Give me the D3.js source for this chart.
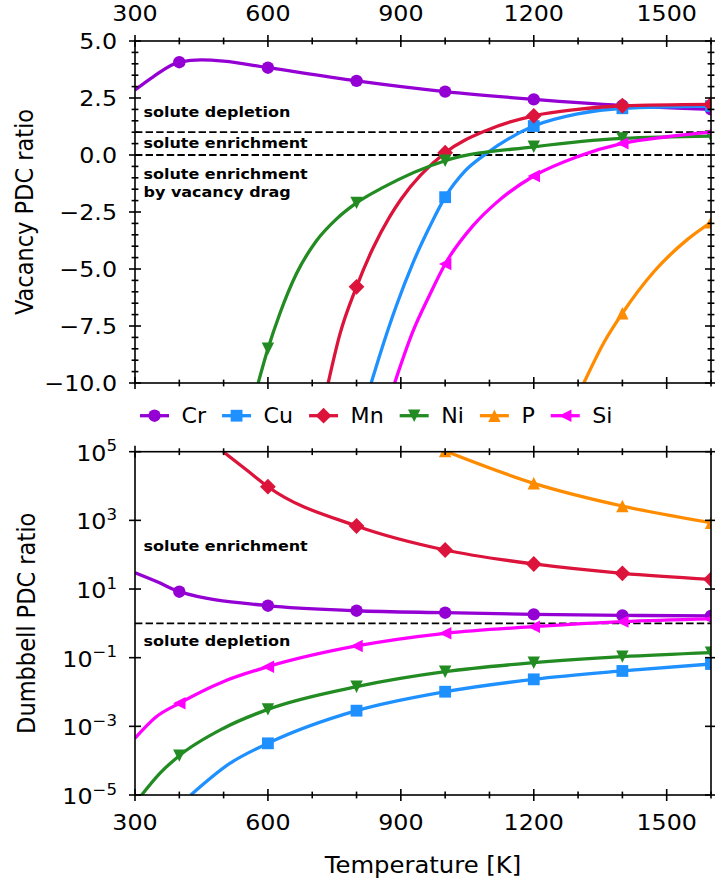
<!DOCTYPE html>
<html>
<head>
<meta charset="utf-8">
<script src="https://cdn.jsdelivr.net/npm/d3@7"></script>
<style>
  body { margin: 0; background: #fff; }
  svg { display: block; }
  text { font-family: "DejaVu Sans", sans-serif; fill: #000; }
</style>
</head>
<body>
<svg id="chart" width="715" height="884"></svg>
<script>
// ---- data -------------------------------------------------------------
const solutes = ["Cr", "Cu", "Mn", "Ni", "P", "Si"];
const soluteColors = ["#9400d3", "#1e90ff", "#dc143c", "#228b22", "#ff8c00", "#ff00ff"];
const soluteShapes = ["circle", "square", "diamond", "triDown", "triUp", "triLeft"];

const temperatureTicks = [300, 600, 900, 1200, 1500];
const temperatureMinorTicks = [400, 500, 700, 800, 1000, 1100, 1300, 1400, 1600];
const markerTemperatures = [400, 600, 800, 1000, 1200, 1400, 1600];

const vacancyTicks = [5, 2.5, 0, -2.5, -5, -7.5, -10];
const dumbbellTicks = [1e5, 1e3, 1e1, 1e-1, 1e-3, 1e-5];
const dumbbellExponents = ["5", "3", "1", "\u22121", "\u22123", "\u22125"];

// vacancy PDC ratio vs temperature [K]
const vacancyCr = [[300, 2.85], [341, 3.43], [400, 4.07], [450, 4.17], [500, 4.12], [600, 3.83], [800, 3.25], [1000, 2.78], [1200, 2.44], [1400, 2.17], [1600, 2.0]];
const vacancyCu = [[833, -10], [852, -8.8], [890, -6.6], [927, -4.75], [965, -3.15], [1000, -1.85], [1045, -0.7], [1092, 0.05], [1200, 1.27], [1299, 1.8], [1400, 2.05], [1600, 2.15]];
const vacancyMn = [[736, -10], [762, -7.89], [800, -5.78], [837, -4.09], [875, -2.7], [900, -1.95], [1000, 0.1], [1096, 1.1], [1200, 1.72], [1299, 2.0], [1400, 2.16], [1600, 2.22]];
const vacancyNi = [[578, -10], [600, -8.5], [627, -6.95], [664, -5.22], [710, -3.75], [755, -2.8], [800, -2.1], [860, -1.42], [1000, -0.25], [1200, 0.36], [1400, 0.73], [1600, 0.83]];
const vacancyP = [[1313, -10], [1359, -8.2], [1400, -6.94], [1472, -5.1], [1547, -3.7], [1600, -2.95]];
const vacancySi = [[886, -10], [927, -7.75], [965, -6.14], [1000, -4.78], [1063, -3.1], [1115, -2.1], [1200, -0.92], [1299, -0.07], [1400, 0.51], [1502, 0.8], [1600, 1.0]];

// dumbbell PDC ratio vs temperature [K]
const dumbbellCr = [[300, 29.9], [350, 16.3], [400, 8.36], [600, 3.27], [800, 2.33], [1000, 2.04], [1200, 1.83], [1400, 1.71], [1600, 1.64]];
const dumbbellCu = [[426, 1e-5], [514, 8.3e-5], [600, 3.2e-4], [800, 2.86e-3], [1000, 0.0102], [1200, 0.0234], [1400, 0.041], [1600, 0.0655]];
const dumbbellMn = [[499, 1e5], [552, 2.93e4], [600, 9550], [800, 686], [1000, 137], [1200, 53.6], [1400, 28.7], [1600, 19.2]];
const dumbbellNi = [[315, 1e-5], [356, 4.27e-5], [400, 1.4e-4], [499, 8.7e-4], [600, 3.13e-3], [800, 0.0143], [1000, 0.039], [1200, 0.0715], [1400, 0.107], [1600, 0.14]];
const dumbbellP = [[1000, 1.05e5], [1200, 1.2e4], [1400, 2620], [1600, 855]];
const dumbbellSi = [[300, 4.5e-4], [348, 1.9e-3], [400, 4.7e-3], [499, 0.02], [600, 0.0546], [800, 0.219], [1000, 0.513], [1200, 0.80], [1400, 1.12], [1600, 1.35]];

const vacancySeries = [vacancyCr, vacancyCu, vacancyMn, vacancyNi, vacancyP, vacancySi];
const dumbbellSeries = [dumbbellCr, dumbbellCu, dumbbellMn, dumbbellNi, dumbbellP, dumbbellSi];

// ---- layout -----------------------------------------------------------
const SX = 1.08;               // horizontal glyph stretch
const left = 135, right = 711;
const topPanel = { top: 41, bottom: 383 };
const botPanel = { top: 451.7, bottom: 795 };
const tickFont = 22, labelFont = 22.5, legendFont = 20.5, noteFont = 14.8;
const lineWidth = 3.3, spineWidth = 1.6;

const svg = d3.select("#chart");

const x = d3.scaleLinear().domain([300, 1600]).range([left, right]);
const yVac = d3.scaleLinear().domain([-10, 5]).range([topPanel.bottom, topPanel.top]);
const yDum = d3.scaleLog().domain([1e-5, 1e5]).range([botPanel.bottom, botPanel.top]);

function text(g, px, py, str, opts = {}) {
  return g.append("text")
    .attr("transform", `translate(${px},${py}) scale(${SX},1)` + (opts.rotate ? ` rotate(${opts.rotate})` : ""))
    .attr("font-size", opts.size || tickFont)
    .attr("text-anchor", opts.anchor || "start")
    .attr("font-weight", opts.weight || "normal")
    .text(str);
}

function markerPath(shape) {
  const h = 6.2;
  switch (shape) {
    case "circle": return `M${h},0A${h},${h} 0 1,1 ${-h},0A${h},${h} 0 1,1 ${h},0Z`;
    case "square": return `M${-5.9},${-5.9}H5.9V5.9H${-5.9}Z`;
    case "diamond": { const d = 7.9; return `M0,${-d}L${d},0L0,${d}L${-d},0Z`; }
    case "triDown": return `M0,${h}L${-h},${-h}L${h},${-h}Z`;
    case "triUp": return `M0,${-h}L${h},${h}L${-h},${h}Z`;
    case "triLeft": return `M${-h},0L${h},${-h}L${h},${h}Z`;
  }
}

const defs = svg.append("defs");
function clip(id, p) {
  defs.append("clipPath").attr("id", id)
    .append("rect").attr("x", left).attr("y", p.top)
    .attr("width", right - left).attr("height", p.bottom - p.top);
}
clip("clipTop", topPanel);
clip("clipBot", botPanel);

function drawSeries(g, seriesList, yScale) {
  const line = d3.line()
    .x(d => x(d[0]))
    .y(d => yScale(d[1]))
    .curve(d3.curveMonotoneX);
  seriesList.forEach((data, i) => {
    const s = g.append("g");
    s.append("path").attr("d", line(data))
      .attr("fill", "none").attr("stroke", soluteColors[i])
      .attr("stroke-width", lineWidth).attr("stroke-linejoin", "round");
    s.selectAll("path.m").data(data.filter(d => markerTemperatures.includes(d[0])))
      .enter().append("path").attr("class", "m")
      .attr("d", markerPath(soluteShapes[i]))
      .attr("transform", d => `translate(${x(d[0])},${yScale(d[1])})`)
      .attr("fill", soluteColors[i]);
  });
}

function xTicks(g, yPos) {
  temperatureTicks.forEach(t => g.append("line")
    .attr("x1", x(t)).attr("x2", x(t)).attr("y1", yPos - 6).attr("y2", yPos + 6));
  temperatureMinorTicks.forEach(t => g.append("line")
    .attr("x1", x(t)).attr("x2", x(t)).attr("y1", yPos - 3.4).attr("y2", yPos + 3.4));
}

function yTickLines(g, yScale, values, half) {
  values.forEach(v => {
    [left, right].forEach(xp => g.append("line")
      .attr("x1", xp - half).attr("x2", xp + half)
      .attr("y1", yScale(v)).attr("y2", yScale(v)));
  });
}

// ---- top panel: vacancy PDC ratio --------------------------------------
const gTop = svg.append("g");
const topPlot = gTop.append("g").attr("clip-path", "url(#clipTop)");

// region boundaries at ratio 1 and 0
[1, 0].forEach(v => topPlot.append("line")
  .attr("x1", left).attr("x2", right).attr("y1", yVac(v)).attr("y2", yVac(v))
  .attr("stroke", "#000").attr("stroke-width", 1.8).attr("stroke-dasharray", "7.4,3.2"));

drawSeries(topPlot, vacancySeries, yVac);

text(gTop, 143.5, 117, "solute depletion", { size: noteFont, weight: "bold" });
text(gTop, 143.5, 147.7, "solute enrichment", { size: noteFont, weight: "bold" });
text(gTop, 143.5, 179, "solute enrichment", { size: noteFont, weight: "bold" });
text(gTop, 143.5, 197, "by vacancy drag", { size: noteFont, weight: "bold" });

const topAxes = gTop.append("g").attr("stroke", "#000").attr("stroke-width", spineWidth);
topAxes.append("rect").attr("x", left).attr("y", topPanel.top)
  .attr("width", right - left).attr("height", topPanel.bottom - topPanel.top).attr("fill", "none");
xTicks(topAxes, topPanel.top);
xTicks(topAxes, topPanel.bottom);
yTickLines(topAxes, yVac, vacancyTicks, 6);
yTickLines(topAxes, yVac, d3.range(-10, 5.01, 0.5).filter(v => !vacancyTicks.includes(v)), 3.4);

temperatureTicks.forEach(t => text(gTop, x(t), 21, String(t), { anchor: "middle" }));
vacancyTicks.forEach(v => text(gTop, 117, yVac(v) + 8,
  d3.format(".1f")(v).replace("-", "\u2212"), { anchor: "end" }));
text(gTop, 33, (topPanel.top + topPanel.bottom) / 2, "Vacancy PDC ratio",
  { size: labelFont, anchor: "middle", rotate: -90 });

// ---- legend -----------------------------------------------------------
const legend = svg.append("g");
const legendY = 415.7;
let lx = 140;
solutes.forEach((name, i) => {
  legend.append("line").attr("x1", lx).attr("x2", lx + 29)
    .attr("y1", legendY).attr("y2", legendY)
    .attr("stroke", soluteColors[i]).attr("stroke-width", lineWidth);
  legend.append("path").attr("d", markerPath(soluteShapes[i]))
    .attr("transform", `translate(${lx + 14.5},${legendY})`).attr("fill", soluteColors[i]);
  const t = text(legend, lx + 41.5, legendY + 7.6, name, { size: legendFont });
  const w = t.node().getComputedTextLength() * SX;
  lx += 41.5 + w + 16;
});

// ---- bottom panel: dumbbell PDC ratio ----------------------------------
const gBot = svg.append("g");
const botPlot = gBot.append("g").attr("clip-path", "url(#clipBot)");

botPlot.append("line")
  .attr("x1", left).attr("x2", right).attr("y1", yDum(1)).attr("y2", yDum(1))
  .attr("stroke", "#000").attr("stroke-width", 1.8).attr("stroke-dasharray", "7.4,3.2");

drawSeries(botPlot, dumbbellSeries, yDum);

text(gBot, 143.5, 551, "solute enrichment", { size: noteFont, weight: "bold" });
text(gBot, 143.5, 645.7, "solute depletion", { size: noteFont, weight: "bold" });

const botAxes = gBot.append("g").attr("stroke", "#000").attr("stroke-width", spineWidth);
botAxes.append("rect").attr("x", left).attr("y", botPanel.top)
  .attr("width", right - left).attr("height", botPanel.bottom - botPanel.top).attr("fill", "none");
xTicks(botAxes, botPanel.top);
xTicks(botAxes, botPanel.bottom);
yTickLines(botAxes, yDum, dumbbellTicks, 6);

temperatureTicks.forEach(t => text(gBot, x(t), 830, String(t), { anchor: "middle" }));
dumbbellTicks.forEach((v, i) => {
  const t = gBot.append("text")
    .attr("transform", `translate(117,${yDum(v) + 9}) scale(${SX},1)`)
    .attr("font-size", tickFont).attr("text-anchor", "end");
  t.append("tspan").text("10");
  t.append("tspan").attr("dy", -9.5).attr("font-size", 15.4).text(dumbbellExponents[i]);
});
text(gBot, 35, (botPanel.top + botPanel.bottom) / 2, "Dumbbell PDC ratio",
  { size: labelFont, anchor: "middle", rotate: -90 });
text(gBot, (left + right) / 2, 873, "Temperature [K]", { size: labelFont, anchor: "middle" });
</script>
</body>
</html>
